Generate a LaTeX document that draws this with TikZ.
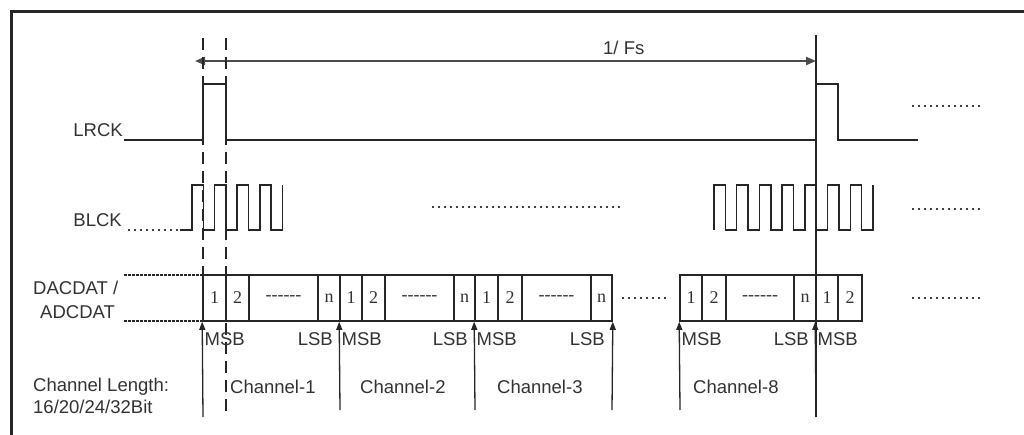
\documentclass[tikz,border=0pt]{standalone}
\usepackage{fontspec}
\setmainfont{Liberation Sans}
\newfontfamily\cellfont{Liberation Serif}
\usetikzlibrary{arrows.meta}
\newcommand{\sixdash}{-\kern0pt-\kern0pt-\kern0pt-\kern0pt-\kern0pt-}
\tikzset{
  lab/.style={font=\fontsize{18.5}{22}\selectfont, text=black!80, inner sep=0pt},
  cellbox/.style={draw=black!85, line width=1.6pt, minimum height=46pt, inner sep=0pt,
    font=\cellfont\fontsize{18}{20}\selectfont, text=black!80},
  sig/.style={line width=1.5pt, draw=black!85, line join=miter},
  dots/.style={line width=1.3pt, draw=black!75, dash pattern=on 2pt off 4pt},
  densedots/.style={line width=2pt, draw=black!85, dash pattern=on 3pt off 1pt},
  vdash/.style={line width=1.4pt, draw=black!85, dash pattern=on 12pt off 7pt},
  uparrow/.style={line width=1.3pt, draw=black!85, -{Triangle[length=8pt,width=6pt]}},
  fsarrow/.style={line width=2pt, draw=black!70, {Triangle[length=10pt,width=8pt]}-{Triangle[length=10pt,width=8pt]}},
}
\begin{document}
\begin{tikzpicture}[x=1pt,y=-1pt]
\useasboundingbox (0,0) rectangle (1024,435);
\fill[white] (0,0) rectangle (1024,435);
% frame
\draw[line width=3pt, black!85] (11,436) -- (11,12) -- (1025,12);

% texts on the left
\node[lab, anchor=base east] (lrck) at (123,136.6) {LRCK};
\node[lab, anchor=base east] (blck) at (122,226.6) {BLCK};
\node[lab, anchor=base west] (dac) at (33,294.6) {DACDAT /};
\node[lab, anchor=base west] (adc) at (40,318.6) {ADCDAT};
\node[lab, anchor=base west] (chl) at (33,391.6) {Channel Length:};
\node[lab, anchor=base west] (bits) at (33,413.6) {16/20/24/32Bit};

% period arrow
\coordinate (fsL) at (195,61);
\coordinate (fsR) at (816,61);
\draw[fsarrow] (fsL) -- (fsR);
\node[lab, anchor=base west] (fs) at (603,55) {1/ Fs};

% dashed and solid long verticals
\coordinate (d1t) at (203,38);  \coordinate (d1b) at (203,321);
\coordinate (d2t) at (226,38);  \coordinate (d2b) at (226,417);
\coordinate (v8t) at (816,35);  \coordinate (v8b) at (816,417);
\draw[vdash] (d1t) -- (d1b);
\draw[vdash] (d2t) -- (d2b);
\draw[sig] (v8t) -- (v8b);

% LRCK
\draw[sig] (124,140) -- (203,140) -- (203,84) -- (226,84) -- (226,140) -- (816,140)
  -- (816,84) -- (838,84) -- (838,140) -- (918,140);
\draw[dots] (912,106) -- (983,106);

% BLCK
\draw[dots] (128,230) -- (180,230);
\draw[sig] (180,230) -- (192,230) -- (192,185) -- (203.3,185) -- (203.3,230) -- (214.6,230)
  -- (214.6,185) -- (225.9,185) -- (225.9,230) -- (237.2,230) -- (237.2,185) -- (248.5,185)
  -- (248.5,230) -- (259.8,230) -- (259.8,185) -- (271.1,185) -- (271.1,230) -- (282.4,230)
  -- (282.4,185);
\draw[dots] (432,207) -- (622,207);
\draw[sig] (714,230) -- (714,185) -- (725.4,185) -- (725.4,230) -- (736.7,230) -- (736.7,185)
  -- (748.1,185) -- (748.1,230) -- (759.4,230) -- (759.4,185) -- (770.8,185) -- (770.8,230)
  -- (782.1,230) -- (782.1,185) -- (793.5,185) -- (793.5,230) -- (804.9,230) -- (804.9,185)
  -- (816.2,185) -- (816.2,230) -- (827.6,230) -- (827.6,185) -- (838.9,185) -- (838.9,230)
  -- (850.3,230) -- (850.3,185) -- (861.6,185) -- (861.6,230) -- (873,230) -- (873,185);
\draw[dots] (912,209) -- (983,209);

% DACDAT row
\draw[densedots] (124,275) -- (203,275);
\draw[densedots] (124,321) -- (203,321);
% channel 1
\node[cellbox, minimum width=23pt] (c1a) at (214.5,298) {1};
\node[cellbox, minimum width=23pt] (c1b) at (237.5,298) {2};
\node[cellbox, minimum width=69pt] (c1c) at (283.5,298) {\sixdash};
\node[cellbox, minimum width=22pt] (c1d) at (329,298) {n};
% channel 2
\node[cellbox, minimum width=22pt] (c2a) at (351,298) {1};
\node[cellbox, minimum width=23pt] (c2b) at (373.5,298) {2};
\node[cellbox, minimum width=69pt] (c2c) at (419.5,298) {\sixdash};
\node[cellbox, minimum width=21pt] (c2d) at (464.5,298) {n};
% channel 3
\node[cellbox, minimum width=23pt] (c3a) at (486.5,298) {1};
\node[cellbox, minimum width=24pt] (c3b) at (510,298) {2};
\node[cellbox, minimum width=69pt] (c3c) at (556.5,298) {\sixdash};
\node[cellbox, minimum width=21pt] (c3d) at (601.5,298) {n};
\draw[dots] (622,298) -- (670,298);
% channel 8
\node[cellbox, minimum width=22pt] (c8a) at (691,298) {1};
\node[cellbox, minimum width=24pt] (c8b) at (714,298) {2};
\node[cellbox, minimum width=68pt] (c8c) at (760,298) {\sixdash};
\node[cellbox, minimum width=22pt] (c8d) at (805,298) {n};
% next frame
\node[cellbox, minimum width=22pt] (c9a) at (827,298) {1};
\node[cellbox, minimum width=24pt] (c9b) at (850,298) {2};
\draw[dots] (912,298) -- (983,298);

% MSB / LSB arrows
\coordinate (a1) at (203,417);
\coordinate (a2) at (340,410);
\coordinate (a3) at (475,410);
\coordinate (a4) at (612,410);
\coordinate (a5) at (680,410);
\draw[uparrow] (a1) -- (c1a.south west);
\draw[uparrow] (a2) -- (c2a.south west);
\draw[uparrow] (a3) -- (c3a.south west);
\draw[uparrow] (a4) -- (c3d.south east);
\draw[uparrow] (a5) -- (c8a.south west);
\draw[uparrow] (v8b) -- (c9a.south west);

\node[lab, anchor=base west] (m1) at (204.5,345.6) {MSB};
\node[lab, anchor=base east] (l1) at (333,345.6) {LSB};
\node[lab, anchor=base west] (m2) at (341.5,345.6) {MSB};
\node[lab, anchor=base east] (l2) at (468,345.6) {LSB};
\node[lab, anchor=base west] (m3) at (476.5,345.6) {MSB};
\node[lab, anchor=base east] (l3) at (605,345.6) {LSB};
\node[lab, anchor=base west] (m8) at (681.5,345.6) {MSB};
\node[lab, anchor=base east] (l8) at (809,345.6) {LSB};
\node[lab, anchor=base west] (m9) at (817.5,345.6) {MSB};

\node[lab, anchor=base west] (ch1) at (230,393.6) {Channel-1};
\node[lab, anchor=base west] (ch2) at (360,393.6) {Channel-2};
\node[lab, anchor=base west] (ch3) at (497,393.6) {Channel-3};
\node[lab, anchor=base west] (ch8) at (693,393.6) {Channel-8};
\end{tikzpicture}
\end{document}
